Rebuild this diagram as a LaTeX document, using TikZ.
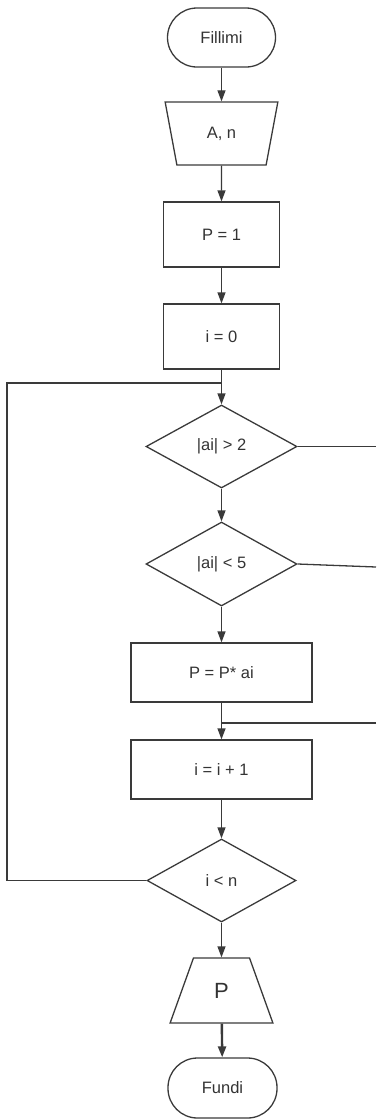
\documentclass[tikz,border=0pt]{standalone}
\usepackage{fontspec}
\setmainfont{Liberation Sans}
\usetikzlibrary{shapes.geometric,arrows.meta}
\definecolor{ink}{HTML}{3A3A3A}
\definecolor{txt}{HTML}{333333}
\tikzset{
  base/.style={draw=ink, line width=1.3pt, text=txt, inner sep=0pt,
    font=\fontsize{16.5}{19}\selectfont},
  term/.style={base, rectangle, rounded corners=29.5pt},
  procbox/.style={base, rectangle},
  decide/.style={base, diamond, aspect=1.8},
  inbox/.style={base, trapezium, trapezium stretches=true, shape border rotate=180,
    trapezium left angle=74, trapezium right angle=74},
  outbox/.style={base, trapezium, trapezium stretches=true,
    trapezium left angle=68, trapezium right angle=68},
  flow/.style={draw=ink, line width=1.3pt},
  arr/.style={flow, -{Triangle[length=11pt,width=8pt]}},
  thickarr/.style={draw=ink, line width=2.4pt, -{Triangle[length=11pt,width=8pt]}},
}
\begin{document}
\begin{tikzpicture}[x=1pt,y=-1pt]
  \useasboundingbox (0,0) rectangle (376,1120);

  % main column
  \node[term, minimum width=108pt, minimum height=59pt] (start) at (221.5,37.5) {Fillimi};
  \node[inbox, minimum width=113pt, minimum height=63pt] (inp) at (221.5,133.5) {A, n};
  \node[procbox, minimum width=116pt, minimum height=65pt] (pone) at (221.5,234.5) {P = 1};
  \node[procbox, minimum width=116pt, minimum height=65pt] (izero) at (221.5,336.5) {i = 0};
  \node[decide, minimum width=151pt, minimum height=83pt] (dgt) at (221.5,446.5) {|ai| > 2};
  \node[decide, minimum width=151pt, minimum height=84pt] (dlt) at (221.5,564) {|ai| < 5};
  \node[procbox, minimum width=181pt, minimum height=59pt] (mul) at (221.5,672.5) {P = P* ai};
  \node[procbox, minimum width=181pt, minimum height=59pt] (inc) at (221.5,769.5) {i = i + 1};
  \node[decide, minimum width=149pt, minimum height=83pt] (dloop) at (221.5,880.5) {i < n};
  \node[outbox, minimum width=103pt, minimum height=65pt, font=\fontsize{22}{26}\selectfont] (outp) at (221.5,990.5) {P};
  \node[term, minimum width=109pt, minimum height=60pt] (stop) at (222.5,1088) {Fundi};

  % junction points
  \coordinate (join) at (221.5,383);
  \coordinate (loopl) at (7,383);
  \coordinate (merge) at (221.5,723);
  \coordinate (rgt) at (376,446.5);
  \coordinate (rlt) at (376,567);
  \coordinate (rmerge) at (376,723);

  % straight flow
  \draw[arr] (start) -- (inp);
  \draw[arr] (inp) -- (pone);
  \draw[arr] (pone) -- (izero);
  \draw[arr] (izero) -- (dgt);
  \draw[arr] (dgt) -- (dlt);
  \draw[arr] (dlt) -- (mul);
  \draw[arr] (mul) -- (inc);
  \draw[arr] (inc) -- (dloop);
  \draw[arr] (dloop) -- (outp);
  \draw[thickarr] (outp) -- (stop);

  % loop back
  \draw[flow] (dloop.west) -| (loopl) -- (join);

  % side branches
  \draw[flow] (dgt.east) -- (rgt);
  \draw[flow] (dlt.east) -- (rlt);
  \draw[flow] (rmerge) -- (merge);
\end{tikzpicture}
\end{document}
